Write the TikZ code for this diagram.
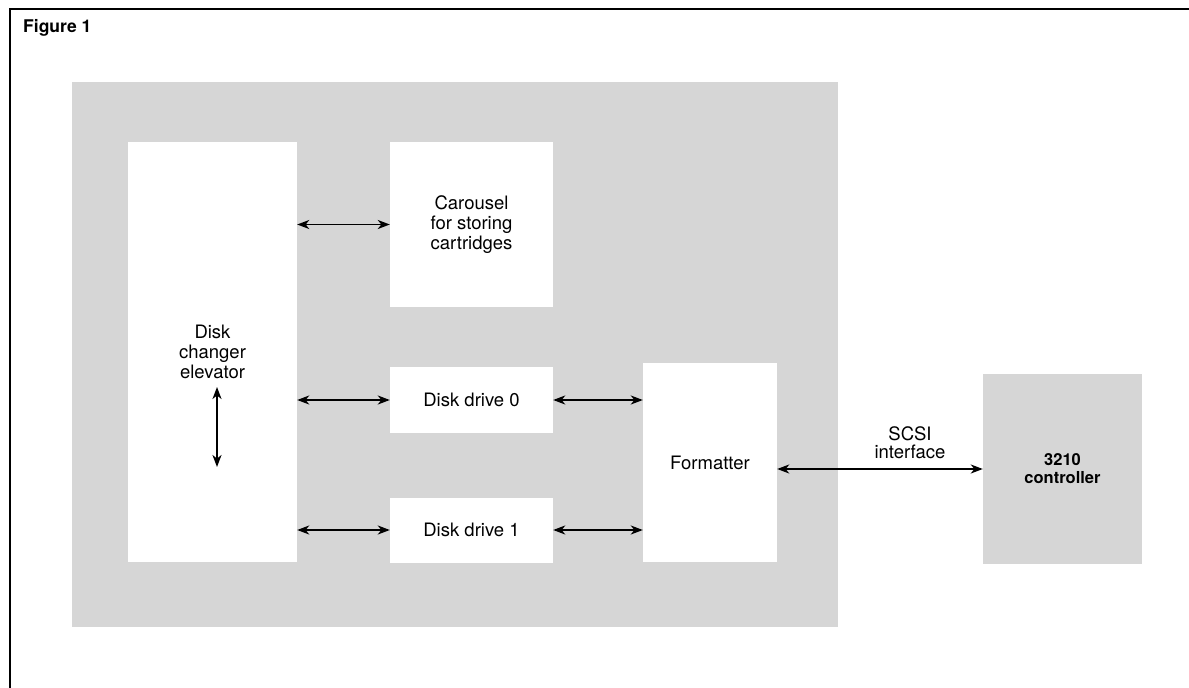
\documentclass[tikz,border=0pt]{standalone}
\usepackage{fontspec}
\setmainfont{TeX Gyre Heros}
\usetikzlibrary{arrows.meta}
\begin{document}
\begin{tikzpicture}[x=1pt,y=-1pt,
  every node/.style={font=\fontsize{18.5}{20}\selectfont},
  wbox/.style={fill=white, inner sep=0pt, align=center},
  link/.style={line width=1.7pt, {Stealth[length=12pt,width=9pt,inset=3.5pt]}-{Stealth[length=12pt,width=9pt,inset=3.5pt]}},
  shade/.style={fill=black!16}]
\useasboundingbox (0,0) rectangle (1189,688);
% frame (top and left edges)
\draw[line width=2.2pt] (10,688) -- (10,9) -- (1189,9);
\node[anchor=base west, inner sep=0pt, font=\bfseries\fontsize{17.5}{19}\selectfont] (title) at (23,32) {Figure 1};
% shaded unit
\fill[shade] (72,82) rectangle (838,627);
% white boxes
\node[wbox, minimum width=169pt, minimum height=420pt] (elev) at (212.5,352) {Disk\\changer\\elevator};
\node[wbox, minimum width=163pt, minimum height=165pt] (car) at (471.5,224.5) {Carousel\\for storing\\cartridges};
\node[wbox, minimum width=163pt, minimum height=66pt] (dd0) at (471.5,400) {Disk drive 0};
\node[wbox, minimum width=163pt, minimum height=65pt] (dd1) at (471.5,530) {Disk drive 1};
\node[wbox, minimum width=134pt, minimum height=199pt] (fmt) at (710,462.5) {Formatter};
% controller
\node[shade, inner sep=0pt, minimum width=159pt, minimum height=190pt, align=center, font=\bfseries\fontsize{16.5}{18}\selectfont] (ctrl) at (1062.5,469) {3210\\controller};
% connectors
\draw[link] (elev.east |- car.west) -- (car.west);
\draw[link] (elev.east |- dd0.west) -- (dd0.west);
\draw[link] (elev.east |- dd1.west) -- (dd1.west);
\draw[link] (dd0.east) -- (fmt.west |- dd0.east);
\draw[link] (dd1.east) -- (fmt.west |- dd1.east);
\draw[link] (fmt.east |- ctrl.west) -- (ctrl.west);
\coordinate (vtop) at (217,387);
\coordinate (vbot) at (217,467);
\draw[link] (vtop) -- (vbot);
\node[align=center, inner sep=0pt, font=\fontsize{18.5}{18}\selectfont] (scsi) at (910,443) {SCSI\\interface};
\end{tikzpicture}
\end{document}
